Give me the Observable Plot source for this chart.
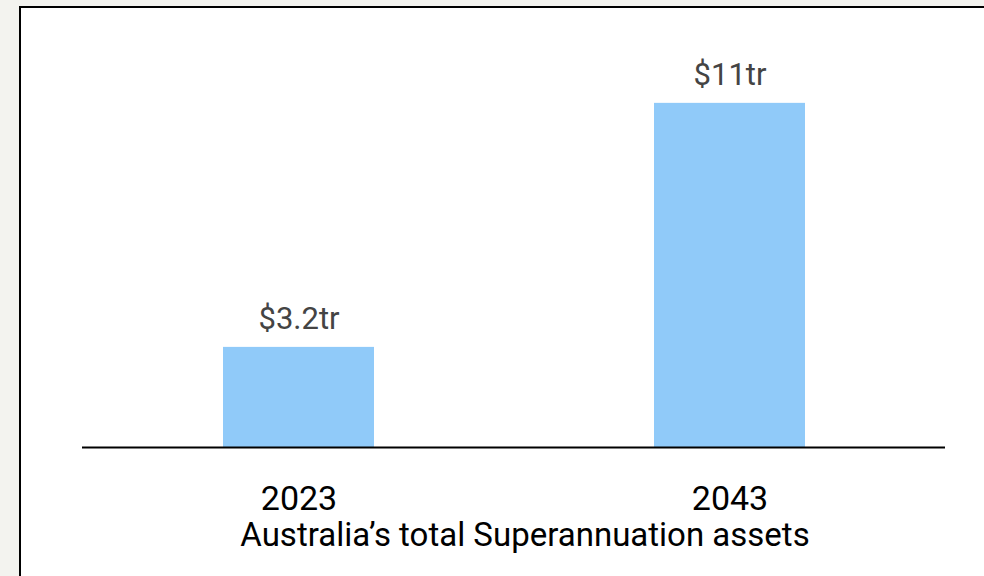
<!DOCTYPE html>
<html>
<head>
<meta charset="utf-8">
<script src="https://cdn.jsdelivr.net/npm/d3@7"></script>
<script src="https://cdn.jsdelivr.net/npm/@observablehq/plot@0.6"></script>
<style>
  html, body { margin: 0; padding: 0; background: #f3f3ef; overflow: hidden; }
  #panel { position: absolute; left: 19px; top: 6px; width: 1100px; height: 700px; background: #fff; border: 2.5px solid #000; box-sizing: border-box; }
  #chart { position: absolute; left: 0; top: 0; }
</style>
</head>
<body>
<div id="panel"></div>
<div id="chart"></div>
<script>
const years = ["2023", "2043"];
const assets = [3.2, 11];
const valueLabels = ["$3.2tr", "$11tr"];
const title = "Australia’s total Superannuation assets";

const data = years.map((y, i) => ({year: y, value: assets[i], label: valueLabels[i]}));

const chart = Plot.plot({
  width: 984,
  height: 576,
  marginLeft: 82,
  marginRight: 39,
  marginTop: 9,
  marginBottom: 129,
  style: {background: "transparent", fontFamily: "Roboto, sans-serif"},
  x: {domain: years, paddingInner: 0.65, paddingOuter: 0.325},
  y: {domain: [0, 14], axis: null},
  marks: [
    Plot.barY(data, {x: "year", y: "value", fill: "#90caf9"}),
    Plot.ruleY([0], {stroke: "#000", strokeWidth: 2}),
    Plot.text(data, {x: "year", y: "value", text: "label", lineAnchor: "bottom", dy: -18, fontSize: 31, fill: "#444"}),
    Plot.axisX({tickSize: 0, tickPadding: 38, fontSize: 34, color: "#000", label: null}),
    Plot.text([title], {frameAnchor: "bottom", dx: 11, dy: 98, fontSize: 33, fill: "#000", lineAnchor: "bottom"})
  ]
});
document.getElementById("chart").appendChild(chart);
</script>
</body>
</html>
